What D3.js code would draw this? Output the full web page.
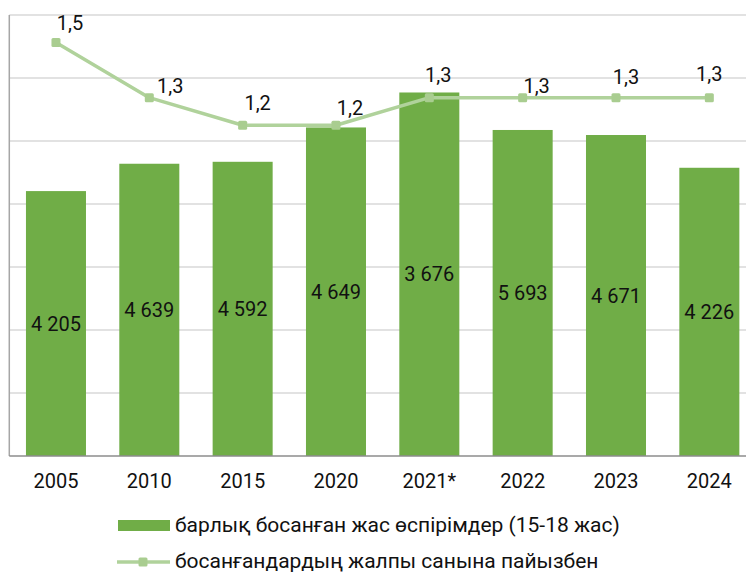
<!DOCTYPE html>
<html>
<head>
<meta charset="utf-8">
<script src="https://cdn.jsdelivr.net/npm/d3@7"></script>
<style>
    body { margin: 0; background: #fff; }
    #chart { width: 746px; height: 572px; }
    text { font-family: Roboto, "Noto Sans", sans-serif; fill: #111; }
</style>
</head>
<body>
<div id="chart"></div>
<script>
// years on the x axis
const years = ["2005", "2010", "2015", "2020", "2021*", "2022", "2023", "2024"];
// bar heights (thousands scale 0..7000)
const barValues = [4205, 4639, 4670, 5215, 5770, 5175, 5095, 4575];
// numbers printed inside the bars
const barLabels = [4205, 4639, 4592, 4649, 3676, 5693, 4671, 4226];
// share of all births, %
const shareValues = [1.5, 1.3, 1.2, 1.2, 1.3, 1.3, 1.3, 1.3];

const barName = "барлық босанған жас өспірімдер (15-18 жас)";
const lineName = "босанғандардың жалпы санына пайызбен";

// manual nudges of the line labels (as in the original)
const labelNudge = [[14, -13], [21, -5], [15, -15], [14, -10], [9, -16], [14, -5], [10, -14], [0, -17]];

const W = 746, H = 572;
const plot = { left: 9.3, right: 756, top: 15, bottom: 456 };

const locale = d3.formatLocale({ decimal: ",", thousands: " ", grouping: [3], currency: ["", ""] });
const fmtInt = locale.format(",d");
const fmtDec = locale.format(".1f");

const svg = d3.select("#chart").append("svg")
    .attr("width", W)
    .attr("height", H);

const x = d3.scaleBand()
    .domain(years)
    .range([plot.left, plot.right])
    .paddingInner(0.357)
    .paddingOuter(0.1785);

const y = d3.scaleLinear().domain([0, 7000]).range([plot.bottom, plot.top]);
const y2 = d3.scaleLinear().domain([0, 1.6]).range([plot.bottom, plot.top]);

// gridlines
svg.append("g")
    .selectAll("line")
    .data(d3.range(1000, 7001, 1000))
    .enter()
    .append("line")
    .attr("x1", plot.left)
    .attr("x2", W)
    .attr("y1", d => y(d))
    .attr("y2", d => y(d))
    .attr("stroke", "#d9d9d9")
    .attr("stroke-width", 1.3);

// bars
svg.append("g")
    .selectAll("rect")
    .data(barValues)
    .enter()
    .append("rect")
    .attr("x", (d, i) => x(years[i]))
    .attr("y", d => y(d))
    .attr("width", x.bandwidth())
    .attr("height", d => y(0) - y(d))
    .attr("fill", "#70ad47");

// bar labels in the middle of each bar
svg.append("g")
    .selectAll("text")
    .data(barLabels)
    .enter()
    .append("text")
    .attr("x", (d, i) => x(years[i]) + x.bandwidth() / 2)
    .attr("y", (d, i) => (y(barValues[i]) + y(0)) / 2)
    .attr("dy", "0.36em")
    .attr("text-anchor", "middle")
    .attr("font-size", 20)
    .text(d => fmtInt(d));

// axes lines
svg.append("line")
    .attr("x1", plot.left).attr("x2", plot.left)
    .attr("y1", plot.top).attr("y2", plot.bottom)
    .attr("stroke", "#a6a6a6").attr("stroke-width", 1.5);
svg.append("line")
    .attr("x1", plot.left).attr("x2", W)
    .attr("y1", plot.bottom).attr("y2", plot.bottom)
    .attr("stroke", "#8c8c8c").attr("stroke-width", 1.5);

// x axis labels
const xAxis = svg.append("g")
    .attr("transform", `translate(0, ${plot.bottom})`)
    .call(d3.axisBottom(x).tickSize(0).tickPadding(18));
xAxis.select(".domain").remove();
xAxis.selectAll("text")
    .attr("font-size", 20)
    .attr("font-family", "Roboto, sans-serif")
    .attr("fill", "#111");

// line series
const cx = (d, i) => x(years[i]) + x.bandwidth() / 2;
const lineColor = "#b0d29b";

svg.append("path")
    .datum(shareValues)
    .attr("fill", "none")
    .attr("stroke", lineColor)
    .attr("stroke-width", 3.5)
    .attr("stroke-linejoin", "round")
    .attr("d", d3.line().x(cx).y(d => y2(d)));

svg.append("g")
    .selectAll("rect")
    .data(shareValues)
    .enter()
    .append("rect")
    .attr("x", (d, i) => cx(d, i) - 4.5)
    .attr("y", d => y2(d) - 4.5)
    .attr("width", 9)
    .attr("height", 9)
    .attr("rx", 1.5)
    .attr("fill", "#a9cd90");

svg.append("g")
    .selectAll("text")
    .data(shareValues)
    .enter()
    .append("text")
    .attr("x", (d, i) => cx(d, i) + labelNudge[i][0])
    .attr("y", (d, i) => y2(d) + labelNudge[i][1])
    .attr("text-anchor", "middle")
    .attr("font-size", 20)
    .text(d => fmtDec(d));

// legend
const legend = svg.append("g");
legend.append("rect")
    .attr("x", 118).attr("y", 520)
    .attr("width", 52).attr("height", 11)
    .attr("fill", "#70ad47");
legend.append("text")
    .attr("x", 175).attr("y", 531.5)
    .attr("font-size", 21)
    .text(barName);

legend.append("line")
    .attr("x1", 117).attr("x2", 170)
    .attr("y1", 562).attr("y2", 562)
    .attr("stroke", lineColor).attr("stroke-width", 3.5);
legend.append("rect")
    .attr("x", 138.5).attr("y", 557.5)
    .attr("width", 9).attr("height", 9)
    .attr("rx", 1.5)
    .attr("fill", "#a9cd90");
legend.append("text")
    .attr("x", 175).attr("y", 567.5)
    .attr("font-size", 21)
    .text(lineName);
</script>
</body>
</html>
